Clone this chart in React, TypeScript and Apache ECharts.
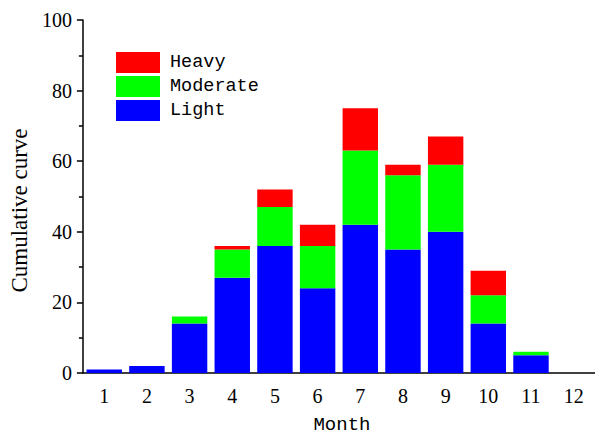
import React, { useEffect, useRef } from "react";
import * as echarts from "echarts";

const months = ["1", "2", "3", "4", "5", "6", "7", "8", "9", "10", "11", "12"];
const light = [1, 2, 14, 27, 36, 24, 42, 35, 40, 14, 5, 0];
const moderate = [0, 0, 2, 8, 11, 12, 21, 21, 19, 8, 1, 0];
const heavy = [0, 0, 0, 1, 5, 6, 12, 3, 8, 7, 0, 0];
const legendNames = ["Heavy", "Moderate", "Light"];

export default function App() {
  const ref = useRef<HTMLDivElement>(null);
  useEffect(() => {
    if (!ref.current) return;
    const chart = echarts.init(ref.current, undefined, { renderer: "svg" });
    const serif = "Liberation Serif";
    const mono = "Liberation Mono";
    chart.setOption({
      animation: false,
      backgroundColor: "#ffffff",
      grid: { left: 82, right: 0, top: 20, bottom: 62 },
      legend: {
        data: legendNames,
        orient: "vertical",
        left: 111,
        top: 47,
        itemWidth: 44,
        itemHeight: 21,
        itemGap: 3,
        icon: "rect",
        textStyle: { fontFamily: mono, fontSize: 18.5, color: "#000", padding: [0, 0, 0, 5] },
      },
      xAxis: {
        type: "category",
        data: months,
        name: "Month",
        nameLocation: "middle",
        nameGap: 42,
        nameTextStyle: { fontFamily: mono, fontSize: 19, color: "#000", padding: [0, 0, 0, 6] },
        axisLine: { lineStyle: { color: "#000", width: 1.5 } },
        axisTick: { alignWithLabel: true, length: 6, lineStyle: { color: "#000", width: 1.5 } },
        axisLabel: { fontFamily: serif, fontSize: 20, color: "#000", margin: 13 },
      },
      yAxis: {
        type: "value",
        min: 0,
        max: 100,
        interval: 20,
        name: "Cumulative curve",
        nameLocation: "middle",
        nameGap: 47,
        nameTextStyle: { fontFamily: serif, fontSize: 23, color: "#000", padding: [0, 28, 0, 0] },
        axisLine: { show: true, lineStyle: { color: "#000", width: 1.5 } },
        axisTick: { show: true, length: 6, lineStyle: { color: "#000", width: 1.5 } },
        minorTick: { show: true, splitNumber: 2, length: 4, lineStyle: { color: "#000", width: 1.5 } },
        splitLine: { show: false },
        axisLabel: { fontFamily: serif, fontSize: 20, color: "#000", margin: 11 },
      },
      series: [
        { name: "Light", type: "bar", stack: "all", data: light, barCategoryGap: "17%", itemStyle: { color: "#0000ff" } },
        { name: "Moderate", type: "bar", stack: "all", data: moderate, itemStyle: { color: "#00ff00" } },
        { name: "Heavy", type: "bar", stack: "all", data: heavy, itemStyle: { color: "#ff0000" } },
      ],
    });
    return () => chart.dispose();
  }, []);
  return (
    <div
      ref={ref}
      style={{ position: "fixed", left: 0, top: 0, width: 595, height: 439 }}
    />
  );
}
